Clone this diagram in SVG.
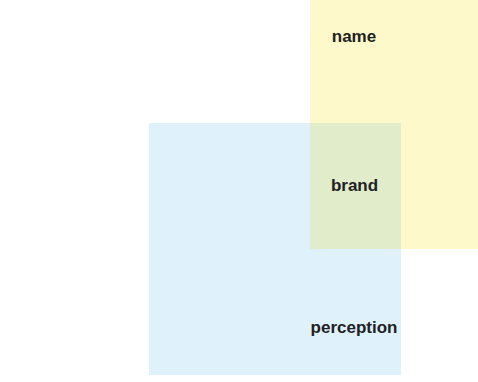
<svg xmlns="http://www.w3.org/2000/svg" width="478" height="382" viewBox="0 0 478 382">
  <style>
    .lbl { font-family: "Liberation Sans", Arial, sans-serif; font-weight: bold; font-size: 17px; fill: #222222; text-anchor: middle; }
  </style>
  <rect width="478" height="382" fill="#ffffff"/>
  <!-- name region -->
  <g id="name">
    <rect x="310" y="-3" width="252" height="252" fill="#fef9ca"/>
  </g>
  <!-- perception region -->
  <g id="perception">
    <rect x="149" y="123" width="252" height="252" fill="#dff1fb"/>
  </g>
  <!-- brand: where the two regions overlap -->
  <g id="brand">
    <rect x="310" y="123" width="91" height="126" fill="#e0ecca"/>
  </g>
  <g id="labels">
    <text class="lbl" x="354" y="42">name</text>
    <text class="lbl" x="354.5" y="191">brand</text>
    <text class="lbl" x="354" y="333">perception</text>
  </g>
</svg>
